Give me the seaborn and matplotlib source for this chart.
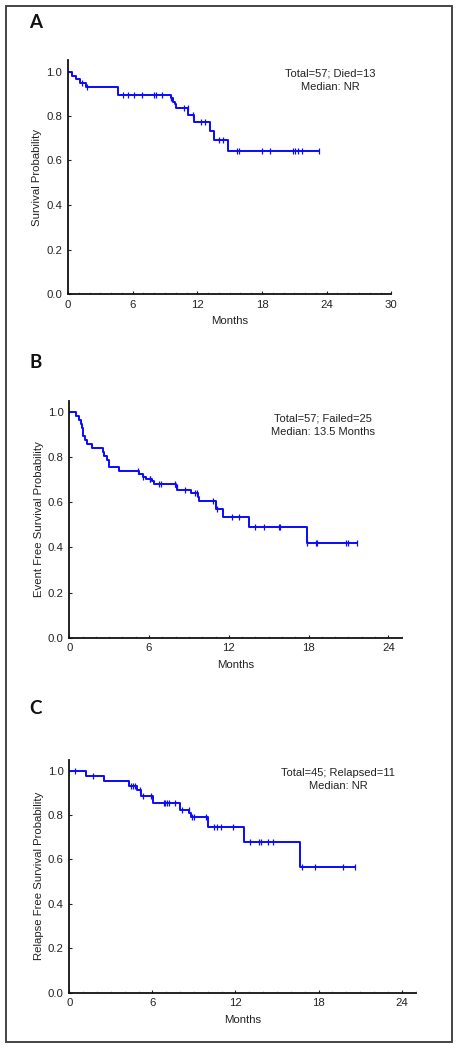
import numpy as np
import matplotlib
matplotlib.use('Agg')
import matplotlib.pyplot as plt
from matplotlib.patches import Rectangle
from matplotlib.ticker import MultipleLocator
import seaborn as sns

sns.set_style('white')
plt.rcParams['font.family'] = ['Liberation Sans', 'DejaVu Sans']

# Panel A - overall survival
a_times = [0, 0.34, 0.71, 1.11, 1.67, 4.64, 9.58, 9.72, 9.92, 10.0, 11.13, 11.69, 13.2, 13.58, 14.88, 23.3]
a_surv = [1.0, 0.982, 0.965, 0.947, 0.930, 0.895, 0.880, 0.865, 0.852, 0.838, 0.806, 0.774, 0.733, 0.693, 0.641, 0.641]
a_cens = [1.27, 1.75, 5.14, 5.57, 6.1, 6.88, 8.0, 8.17, 8.76, 9.6, 10.8, 11.1, 11.6, 12.34, 12.7,
          13.98, 14.4, 15.7, 15.9, 18.0, 18.73, 20.9, 21.1, 21.3, 21.7, 23.3]

# Panel B - event free survival
b_times = [0, 0.48, 0.75, 0.86, 0.93, 1.0, 1.06, 1.16, 1.36, 1.73, 2.51, 2.64, 2.85, 2.95, 3.0, 3.76,
           5.22, 5.52, 5.75, 6.22, 6.37, 8.0, 8.13, 9.13, 9.7, 9.78, 11.0, 11.58, 13.53, 17.85, 21.65]
b_surv = [1.0, 0.982, 0.965, 0.947, 0.930, 0.912, 0.895, 0.877, 0.860, 0.842, 0.824, 0.807, 0.789, 0.772,
          0.754, 0.737, 0.724, 0.713, 0.702, 0.692, 0.681, 0.667, 0.654, 0.640, 0.625, 0.607, 0.572,
          0.535, 0.491, 0.420, 0.420]
b_cens = [5.14, 5.58, 6.04, 6.1, 6.73, 6.9, 7.95, 8.1, 8.72, 9.48, 9.59, 10.83, 11.13, 12.26, 12.78,
          13.96, 14.66, 15.78, 15.84, 17.9, 18.55, 18.62, 20.8, 20.95, 21.65]

# Panel C - relapse free survival
c_times = [0, 1.18, 2.48, 4.31, 4.89, 5.2, 6.04, 7.97, 8.67, 8.76, 10.0, 12.64, 16.66, 20.63]
c_surv = [1.0, 0.977, 0.955, 0.933, 0.911, 0.885, 0.856, 0.825, 0.808, 0.790, 0.745, 0.680, 0.568, 0.568]
c_cens = [0.41, 1.71, 4.43, 4.57, 4.74, 5.1, 5.32, 5.92, 6.84, 6.93, 7.08, 7.2, 7.6, 8.11, 8.62, 8.86,
          9.03, 9.85, 10.47, 10.64, 10.95, 11.84, 13.07, 13.72, 13.84, 14.32, 14.68, 16.78, 17.74,
          19.76, 20.63]

panels = [
    ('A', a_times, a_surv, a_cens, 'Survival Probability', 30,
     'Total=57; Died=13\nMedian: NR', (0.81, 0.915), [0.1485, 0.72, 0.706, 0.2225]),
    ('B', b_times, b_surv, b_cens, 'Event Free Survival Probability', 25,
     'Total=57; Failed=25\nMedian: 13.5 Months', (0.763, 0.897), [0.1513, 0.3927, 0.7256, 0.2257]),
    ('C', c_times, c_surv, c_cens, 'Relapse Free Survival Probability', 25,
     'Total=45; Relapsed=11\nMedian: NR', (0.776, 0.916), [0.1513, 0.0546, 0.756, 0.222]),
]
label_y = {'A': 22, 'B': 362, 'C': 709}

fig = plt.figure(figsize=(4.58, 10.5), dpi=100)
blue = '#0a0aff'

for name, times, surv, cens, ylab, xmax, note, note_xy, rect in panels:
    ax = fig.add_axes(rect)
    times = np.array(times)
    surv = np.array(surv)
    sns.lineplot(x=times, y=surv, drawstyle='steps-post', color=blue, lw=1.4,
                 estimator=None, sort=False, ax=ax)
    idx = np.searchsorted(times, cens, side='right') - 1
    sns.scatterplot(x=cens, y=surv[idx], marker='|', s=24, color=blue, linewidth=0.9, ax=ax)

    ax.set_xlim(0, xmax)
    ax.set_ylim(0, 1.05)
    ax.set_xticks(np.arange(0, xmax + 1, 6))
    ax.set_yticks(np.arange(0, 1.01, 0.2))
    ax.set_yticklabels(['%.1f' % v for v in np.arange(0, 1.01, 0.2)])
    ax.xaxis.set_minor_locator(MultipleLocator(1))
    ax.tick_params(axis='both', which='major', direction='in', length=2.5, width=0.8,
                   labelsize=8.2, colors='#222222', pad=4)
    ax.tick_params(axis='x', which='minor', direction='in', length=1.2, width=0.5, color='#999999')
    ax.tick_params(axis='x', which='both', bottom=True)
    ax.tick_params(axis='y', left=True)
    sns.despine(ax=ax)
    for sp in ['left', 'bottom']:
        ax.spines[sp].set_linewidth(1.3)
        ax.spines[sp].set_color('#111111')
    ax.set_xlabel('Months', fontsize=8.2, color='#222222', labelpad=5)
    ax.set_ylabel(ylab, fontsize=8.2, color='#222222', labelpad=3)
    ax.text(note_xy[0], note_xy[1], note, transform=ax.transAxes, ha='center', va='center',
            fontsize=8.0, color='#222222', linespacing=1.4)
    fig.text(36 / 458, 1 - label_y[name] / 1050, name, ha='center', va='center',
             fontsize=13.5, fontweight='bold', family=['Lato', 'DejaVu Sans'], color='#111111')

fig.patches.append(Rectangle((6 / 458, 1 - 1042 / 1050), 446 / 458, 1036 / 1050,
                             transform=fig.transFigure, fill=False, lw=1.4, edgecolor='#444444'))

fig.savefig('out.png', dpi=100)
